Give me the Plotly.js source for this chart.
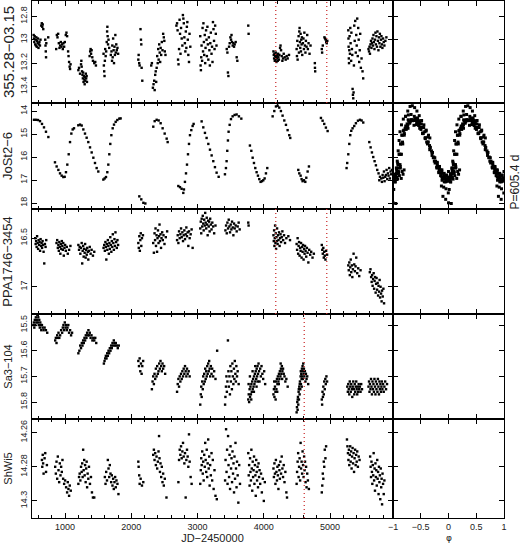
<!DOCTYPE html>
<html>
<head>
<meta charset="utf-8">
<script src="https://cdn.plot.ly/plotly-3.0.1.min.js"></script>
<style>body{margin:0;background:#fff}</style>
</head>
<body>
<div id="chart" style="width:520px;height:544px"></div>
<script>
// star names (left y titles)
const names = ["355.28−03.15", "JoSt2−6", "PPA1746−3454", "Sa3−104", "ShWi5"];

// light curves: [JD-2450000, mag]
const lc355 = [
  [525,12.96],[530,12.99],[535,13.02],[540,12.97],[548,13.04],[552,13.00],[560,13.05],[565,12.98],[572,13.06],[578,13.01],[585,13.03],[590,12.99],[598,13.07],[605,13.04],[612,13.02],[620,13.05],[628,13.00],[640,12.88],[648,12.86],[655,12.89],[662,12.87],[670,12.91],[700,13.00],[704,13.05],[708,13.10],[712,13.15],[716,13.03],[745,12.98],
  [865,13.08],[875,12.96],[885,12.98],[895,12.95],[905,13.03],[915,13.07],[925,13.05],[935,13.02],[945,13.06],[955,13.04],[965,13.08],[975,13.03],[985,13.06],[995,13.02],[1010,12.96],[1020,12.94],[1030,12.97],[1045,13.10],[1052,13.14],[1060,13.19],[1068,13.23],[1075,13.25],[1082,13.21],
  [1200,13.26],[1210,13.24],[1225,13.29],[1240,13.21],[1245,13.18],[1250,13.23],[1255,13.27],[1262,13.30],[1268,13.33],[1272,13.28],[1278,13.36],[1283,13.31],[1290,13.34],[1295,13.38],[1300,13.32],[1305,13.35],[1312,13.29],[1318,13.33],[1325,13.31],[1330,13.36],
  [1370,13.14],[1378,13.10],[1385,13.08],[1392,13.12],[1400,13.09],[1410,13.15],[1420,13.18],[1440,13.20],[1455,13.19],[1465,13.22],
  [1580,13.12],[1585,13.22],[1590,13.27],[1595,13.31],[1600,13.18],[1605,13.08],[1612,13.14],[1620,13.10],[1628,13.02],[1634,12.93],[1638,12.89],[1642,12.97],[1648,13.04],[1655,13.00],[1665,13.07],[1690,13.13],[1700,13.10],[1708,13.18],[1712,13.05],[1718,13.15],[1725,12.99],[1732,13.09],[1738,13.20],[1745,13.06],[1752,13.13],[1758,12.96],[1765,13.11],[1772,13.04],[1780,13.09],[1790,13.07],[1800,13.12],
  [2105,13.17],[2110,13.13],[2118,13.20],[2125,13.22],[2138,12.91],[2145,13.00],[2150,13.04],[2155,13.24],[2165,13.35],
  [2300,13.22],[2310,13.20],[2325,13.41],[2335,13.38],[2345,13.35],[2352,13.43],[2360,13.30],[2368,13.27],[2375,13.36],[2382,13.24],[2390,13.14],[2398,13.20],[2405,13.08],[2412,13.17],[2420,13.04],[2428,13.11],[2435,13.19],[2442,13.07],[2450,13.13],[2460,13.02],[2470,13.09],[2480,12.95],[2490,12.98],[2498,13.01],[2505,13.10],[2515,13.13],
  [2680,12.88],[2690,12.86],[2698,12.92],[2705,13.17],[2712,13.21],[2720,13.08],[2728,12.83],[2735,12.95],[2742,13.12],[2750,12.90],[2760,12.99],[2770,13.05],[2778,12.79],[2785,12.82],[2792,12.86],[2800,12.98],[2808,13.03],[2815,13.10],[2822,12.93],[2830,13.07],[2838,12.89],[2845,12.85],[2852,13.00],[2860,13.13],[2870,13.19],[2878,12.95],[2890,13.06],
  [3040,12.97],[3045,13.22],[3050,13.26],[3055,13.15],[3060,13.05],[3068,13.18],[3075,12.90],[3082,13.10],[3088,12.86],[3095,13.02],[3100,13.13],[3108,12.96],[3115,13.20],[3120,13.07],[3128,12.92],[3135,13.00],[3140,13.14],[3148,12.89],[3155,13.04],[3162,13.17],[3170,12.98],[3178,13.09],[3185,13.22],[3192,13.03],[3200,12.94],[3210,13.12],[3218,13.06],[3225,13.19],[3232,12.85],[3240,12.91],[3248,13.01],[3256,13.08],[3265,12.88],[3275,12.95],[3285,13.05],
  [3440,13.08],[3450,13.11],[3458,13.28],[3465,13.31],[3475,13.06],[3485,13.03],[3495,12.98],[3505,13.00],[3512,12.96],[3520,13.02],[3530,13.05],[3540,13.03],[3550,13.06],[3560,13.04],[3575,13.02],[3590,13.15],[3600,13.18],
  [3765,12.88],[3770,12.95],
  [4145,13.10],[4150,13.13],[4155,13.16],[4160,13.12],[4165,13.18],[4170,13.14],[4175,13.17],[4180,13.11],[4185,13.15],[4190,13.19],[4195,13.13],[4200,13.16],[4205,13.14],[4210,13.18],[4215,13.12],[4220,13.15],[4228,13.17],[4235,13.13],[4245,13.07],[4252,13.05],[4260,13.09],[4270,13.14],[4280,13.18],[4290,13.16],[4300,13.12],[4315,13.15],[4330,13.17],[4345,13.14],[4360,13.16],[4380,13.13],
  [4495,13.08],[4500,13.14],[4505,13.01],[4510,13.17],[4518,13.05],[4525,12.97],[4530,13.11],[4535,12.93],[4540,12.90],[4545,13.02],[4550,13.07],[4555,12.95],[4560,13.10],[4565,13.00],[4570,13.04],[4575,12.98],[4580,13.13],[4590,13.03],[4598,12.99],[4605,13.08],[4612,12.94],[4620,13.05],[4628,13.11],[4635,13.01],[4645,13.06],[4655,12.96],[4665,13.08],[4675,13.03],[4690,13.12],[4705,13.05],[4770,13.20],[4772,13.24],[4775,13.27],
  [4875,13.08],[4880,13.11],[4890,13.05],[4915,12.98],[4925,12.99],[4935,13.00],[4942,13.02],[4950,13.03],[4958,13.01],
  [5275,12.92],[5278,12.99],[5280,13.06],[5283,13.16],[5286,13.20],[5290,13.09],[5295,12.97],[5300,13.12],[5305,12.90],[5310,13.03],[5318,13.18],[5322,12.94],[5330,13.08],[5335,13.13],[5340,13.42],[5345,13.47],[5350,13.50],[5355,13.45],[5360,13.22],[5365,12.88],[5372,13.01],[5380,12.84],[5388,13.11],[5395,12.96],[5402,13.05],[5410,12.82],[5418,13.14],[5425,12.90],[5432,13.00],[5440,13.19],[5448,13.09],[5455,12.95],[5465,13.24],[5475,13.16],[5490,13.27],[5500,13.33],
  [5580,13.08],[5588,13.10],[5595,13.06],[5602,13.12],[5610,13.04],[5618,13.01],[5625,13.07],[5632,13.03],[5640,12.99],[5648,13.05],[5655,12.96],[5662,13.02],[5670,13.08],[5678,13.00],[5685,12.94],[5692,13.04],[5700,12.97],[5708,13.06],[5715,12.93],[5722,13.01],[5730,13.09],[5738,12.98],[5745,13.03],[5752,12.95],[5760,13.06],[5768,13.00],[5775,12.97],[5782,13.04],[5790,13.07],[5800,12.99],[5810,13.02],[5820,13.05],[5835,13.01],[5850,12.98]
];

const lcJoSt = [
  [530,14.38],[561,14.38],[591,14.39],[621,14.44],[651,14.56],[681,14.71],[711,14.90],[747,15.13],
  [847,16.23],[872,16.41],[898,16.56],[923,16.71],[948,16.81],[973,16.87],[993,16.86],[1013,16.66],[1033,16.33],[1054,15.88],[1074,15.35],[1094,14.98],[1114,14.80],[1134,14.75],
  [1199,14.62],[1225,14.59],[1250,14.63],[1275,14.80],[1300,14.98],[1325,15.16],[1350,15.35],[1376,15.58],[1401,15.80],[1426,16.03],[1451,16.26],[1476,16.48],[1501,16.63],
  [1577,16.98],[1597,16.93],[1617,16.87],[1637,16.66],[1652,16.33],[1667,15.88],[1682,15.43],[1698,15.05],[1718,14.75],[1738,14.59],[1763,14.47],[1788,14.39],[1818,14.33],[1838,14.32],
  [2120,17.71],[2150,17.84],[2181,17.99],[2211,18.02],
  [2331,14.68],[2352,14.44],[2382,14.38],[2412,14.41],[2442,14.53],[2472,14.75],[2503,14.98],[2533,15.20],[2548,15.35],
  [2709,17.26],[2734,17.31],[2759,17.38],[2784,17.56],[2794,17.41],[2809,17.08],[2825,16.71],[2840,16.33],[2855,15.88],[2870,15.43],[2885,15.05],[2905,14.83],[2925,14.65],[2940,14.56],
  [3061,14.45],[3086,14.71],[3111,14.95],[3136,15.17],[3162,15.43],[3187,15.68],[3212,15.93],[3237,16.18],[3262,16.44],[3287,16.68],[3318,16.86],
  [3413,16.75],[3428,16.48],[3438,16.18],[3448,15.73],[3458,15.28],[3468,14.90],[3484,14.60],[3504,14.35],[3529,14.23],[3559,14.17],[3589,14.15],[3624,14.23],[3660,14.33],
  [3790,15.50],[3811,15.73],[3831,16.03],[3851,16.26],[3871,16.48],[3891,16.66],[3911,16.81],[3931,16.96],[3951,17.08],[3972,17.05],[3992,17.01],[4012,16.93],[4032,16.71],[4052,16.48],
  [4133,14.23],[4158,14.00],[4183,13.80],[4208,13.77],[4233,13.85],[4258,14.00],[4283,14.20],[4309,14.41],[4334,14.60],[4359,14.83],[4384,15.05],[4399,15.17],
  [4520,16.56],[4535,16.71],[4555,16.81],[4570,16.96],[4585,17.05],[4606,17.01],[4626,17.08],[4641,16.90],[4661,16.63],[4681,16.41],
  [4862,14.30],[4887,14.42],[4912,14.56],[4937,14.72],[4963,14.87],
  [5249,16.48],[5259,16.26],[5275,15.88],[5290,15.43],[5305,15.05],[5320,14.86],[5340,14.75],[5365,14.65],[5390,14.53],[5421,14.42],[5451,14.38],[5476,14.41],[5501,14.50],
  [5592,15.35],[5612,15.58],[5632,15.80],[5652,16.00],[5672,16.18],[5692,16.36],[5712,16.56],[5732,16.71],[5743,17.01],[5753,16.86],[5773,16.93],[5783,17.08],[5793,16.78],[5803,16.90],[5813,16.63],[5823,17.05],[5833,16.86],[5843,16.78],[5853,16.56],[5863,16.96],[5873,16.71],[5883,16.81],[5893,16.48],[5903,16.93],[5913,16.63],[5923,16.75],[5934,16.56]
];

const lcPPA = [
  [548,16.50],[555,16.56],[562,16.53],[570,16.59],[577,16.48],[585,16.55],[592,16.61],[600,16.52],[608,16.57],[615,16.54],[622,16.63],[630,16.51],[638,16.58],[645,16.55],[652,16.60],[660,16.53],[668,16.57],[675,16.64],[685,16.76],[695,16.56],[705,16.59],[715,16.52],
  [870,16.55],[880,16.52],[890,16.60],[898,16.57],[905,16.63],[912,16.54],[920,16.59],[928,16.66],[935,16.56],[942,16.61],[950,16.53],[958,16.58],[965,16.62],[972,16.55],[980,16.68],[990,16.60],[1000,16.57],[1010,16.63],[1025,16.59],[1040,16.66],[1060,16.62],[1080,16.58],
  [1200,16.57],[1210,16.62],[1220,16.59],[1230,16.66],[1240,16.60],[1250,16.55],[1258,16.76],[1265,16.63],[1272,16.58],[1280,16.69],[1288,16.61],[1295,16.65],[1302,16.56],[1310,16.70],[1318,16.62],[1326,16.67],[1334,16.60],[1342,16.64],[1350,16.72],[1360,16.63],[1372,16.59],[1385,16.66],[1400,16.62],[1420,16.68],[1440,16.64],
  [1580,16.60],[1590,16.57],[1600,16.63],[1608,16.54],[1615,16.59],[1622,16.72],[1630,16.56],[1637,16.62],[1645,16.52],[1652,16.58],[1660,16.66],[1668,16.55],[1675,16.61],[1682,16.49],[1690,16.57],[1698,16.64],[1705,16.53],[1712,16.59],[1720,16.46],[1728,16.55],[1736,16.62],[1745,16.51],[1752,16.58],[1760,16.44],[1770,16.54],[1780,16.60],[1790,16.52],[1800,16.57],
  [2105,16.55],[2112,16.60],[2120,16.48],[2128,16.63],[2135,16.52],[2142,16.45],[2150,16.58],[2160,16.50],[2175,16.47],
  [2330,16.55],[2340,16.65],[2350,16.45],[2358,16.52],[2365,16.40],[2372,16.58],[2380,16.47],[2388,16.64],[2395,16.50],[2402,16.42],[2410,16.55],[2418,16.48],[2425,16.36],[2432,16.53],[2440,16.46],[2448,16.60],[2455,16.50],[2465,16.44],[2475,16.52],[2485,16.47],[2500,16.56],[2520,16.49],[2540,16.43],
  [2690,16.52],[2700,16.47],[2710,16.55],[2720,16.43],[2730,16.50],[2740,16.46],[2750,16.40],[2760,16.49],[2770,16.44],[2780,16.53],[2790,16.47],[2800,16.42],[2810,16.51],[2820,16.46],[2830,16.39],[2840,16.48],[2850,16.44],[2860,16.58],[2870,16.43],[2880,16.50],[2895,16.46],[2910,16.41],[2925,16.60],
  [3040,16.40],[3048,16.33],[3055,16.45],[3062,16.30],[3070,16.38],[3078,16.27],[3085,16.35],[3092,16.42],[3100,16.31],[3108,16.37],[3115,16.24],[3122,16.34],[3130,16.40],[3138,16.29],[3145,16.36],[3152,16.47],[3160,16.32],[3168,16.38],[3175,16.33],[3182,16.43],[3190,16.30],[3200,16.36],[3210,16.41],[3222,16.34],[3235,16.38],[3250,16.45],[3270,16.37],
  [3420,16.42],[3430,16.37],[3440,16.45],[3450,16.34],[3460,16.40],[3470,16.31],[3480,16.38],[3490,16.44],[3500,16.36],[3510,16.41],[3520,16.33],[3530,16.39],[3540,16.47],[3550,16.35],[3560,16.40],[3575,16.37],[3590,16.43],[3605,16.38],[3620,16.34],[3635,16.41],
  [3765,16.34],[3770,16.37],
  [4145,16.47],[4150,16.53],[4155,16.42],[4160,16.58],[4165,16.50],[4170,16.37],[4175,16.55],[4180,16.45],[4185,16.61],[4190,16.49],[4195,16.53],[4200,16.40],[4208,16.56],[4215,16.47],[4222,16.52],[4230,16.44],[4238,16.58],[4245,16.50],[4252,16.46],[4260,16.54],[4270,16.49],[4280,16.43],[4292,16.52],[4305,16.47],[4320,16.55],[4340,16.50],[4370,16.48],[4395,16.52],
  [4495,16.56],[4502,16.62],[4510,16.50],[4518,16.66],[4525,16.58],[4532,16.54],[4540,16.68],[4548,16.60],[4555,16.63],[4562,16.55],[4570,16.70],[4578,16.59],[4585,16.64],[4592,16.57],[4600,16.72],[4608,16.61],[4615,16.66],[4622,16.58],[4630,16.63],[4640,16.69],[4650,16.60],[4660,16.65],[4672,16.75],[4685,16.62],[4700,16.67],[4715,16.64],[4735,16.70],[4755,16.66],
  [4875,16.57],[4882,16.62],[4890,16.66],[4898,16.60],[4905,16.70],[4912,16.64],[4920,16.68],[4930,16.72],[4940,16.63],[4955,16.67],
  [5275,16.78],[5282,16.83],[5290,16.75],[5298,16.88],[5305,16.80],[5312,16.72],[5320,16.85],[5328,16.78],[5336,16.90],[5345,16.82],[5355,16.66],[5365,16.77],[5375,16.84],[5385,16.79],[5395,16.70],[5410,16.86],[5425,16.81],[5440,16.89],[5460,16.83],
  [5600,16.85],[5610,16.82],[5620,16.90],[5628,16.95],[5635,16.88],[5642,16.99],[5650,16.92],[5658,16.86],[5665,17.02],[5672,16.94],[5680,16.90],[5688,17.06],[5695,16.97],[5702,16.91],[5710,17.03],[5718,16.96],[5725,17.09],[5732,16.99],[5740,17.05],[5748,16.93],[5755,17.11],[5762,17.00],[5770,17.07],[5778,17.15],[5785,17.04],[5795,17.10],[5805,17.02],[5815,17.17]
];

const lcSa3 = [
  [520,15.50],[528,15.49],[535,15.51],[542,15.48],[550,15.50],[558,15.47],[565,15.49],[572,15.48],[580,15.46],[588,15.49],[595,15.47],[602,15.50],[610,15.48],[618,15.51],[625,15.49],[632,15.50],[640,15.52],[650,15.50],[660,15.51],[675,15.52],[690,15.51],[710,15.52],[730,15.53],
  [850,15.56],[860,15.55],[870,15.57],[880,15.54],[890,15.55],[900,15.53],[912,15.55],[925,15.54],[940,15.52],[955,15.53],[965,15.51],[975,15.50],[985,15.52],[995,15.49],[1005,15.51],[1015,15.50],[1025,15.52],[1035,15.51],[1048,15.50],[1060,15.53],[1075,15.52],[1090,15.54],[1105,15.53],
  [1200,15.61],[1215,15.60],[1228,15.58],[1240,15.59],[1252,15.57],[1262,15.58],[1272,15.56],[1282,15.57],[1292,15.55],[1302,15.56],[1312,15.54],[1322,15.55],[1332,15.53],[1342,15.54],[1352,15.52],[1362,15.54],[1372,15.53],[1385,15.55],[1398,15.54],[1412,15.56],[1425,15.55],[1440,15.56],[1455,15.55],[1470,15.57],
  [1585,15.65],[1595,15.64],[1605,15.63],[1615,15.62],[1625,15.63],[1635,15.61],[1645,15.62],[1655,15.60],[1665,15.61],[1675,15.59],[1685,15.60],[1695,15.58],[1705,15.59],[1715,15.57],[1725,15.58],[1735,15.56],[1745,15.57],[1755,15.58],[1765,15.57],[1780,15.58],[1795,15.59],[1810,15.58],
  [2105,15.64],[2115,15.66],[2125,15.63],[2135,15.68],[2145,15.65],[2155,15.69],[2165,15.66],[2178,15.64],
  [2310,15.75],[2320,15.72],[2330,15.70],[2340,15.73],[2350,15.69],[2360,15.71],[2370,15.67],[2380,15.70],[2390,15.66],[2400,15.69],[2410,15.68],[2420,15.65],[2430,15.67],[2440,15.64],[2450,15.66],[2460,15.68],[2470,15.65],[2480,15.67],[2495,15.66],[2510,15.69],
  [2690,15.76],[2700,15.73],[2710,15.71],[2720,15.74],[2730,15.70],[2740,15.72],[2750,15.69],[2760,15.71],[2770,15.68],[2780,15.70],[2790,15.67],[2800,15.69],[2810,15.66],[2820,15.68],[2830,15.70],[2840,15.67],[2850,15.69],[2865,15.68],[2880,15.70],
  [3040,15.81],[3048,15.77],[3055,15.74],[3062,15.78],[3070,15.72],[3078,15.75],[3085,15.70],[3092,15.73],[3100,15.69],[3108,15.72],[3115,15.67],[3122,15.71],[3130,15.68],[3138,15.70],[3145,15.66],[3152,15.69],[3160,15.65],[3168,15.68],[3175,15.64],[3182,15.67],[3190,15.70],[3200,15.66],[3210,15.69],[3220,15.67],[3235,15.70],[3250,15.68],[3270,15.71],[3295,15.60],
  [3415,15.81],[3420,15.78],[3428,15.74],[3435,15.70],[3442,15.76],[3450,15.72],[3458,15.56],[3465,15.68],[3472,15.74],[3480,15.70],[3488,15.77],[3495,15.66],[3502,15.72],[3510,15.68],[3518,15.75],[3525,15.65],[3532,15.70],[3540,15.73],[3548,15.67],[3555,15.71],[3562,15.64],[3570,15.69],[3578,15.72],[3585,15.66],[3595,15.70],[3605,15.68],[3620,15.73],
  [3765,15.79],[3772,15.77],[3778,15.80],[3785,15.75],[3792,15.78],[3798,15.74],[3805,15.77],[3812,15.73],[3818,15.76],[3825,15.72],[3832,15.75],[3838,15.71],[3845,15.74],[3852,15.70],[3858,15.73],[3865,15.69],[3872,15.72],[3878,15.68],[3885,15.71],[3892,15.67],[3898,15.70],[3905,15.66],[3912,15.69],[3920,15.65],[3928,15.68],[3935,15.72],[3945,15.67],[3955,15.70],[3965,15.66],[3978,15.69],[3990,15.71],[4005,15.68],[4020,15.73],
  [3770,15.73],[3790,15.70],[3810,15.79],[3830,15.68],[3850,15.76],[3870,15.66],[3890,15.74],[3910,15.72],
  [4145,15.77],[4152,15.75],[4160,15.78],[4168,15.74],[4175,15.76],[4182,15.72],[4190,15.75],[4198,15.71],[4205,15.73],[4212,15.70],[4220,15.72],[4228,15.69],[4235,15.71],[4242,15.68],[4250,15.70],[4258,15.67],[4265,15.69],[4272,15.66],[4280,15.68],[4290,15.67],[4300,15.69],[4312,15.70],[4325,15.72],[4340,15.71],[4360,15.74],
  [4156,15.72],[4178,15.79],[4202,15.76],[4226,15.73],[4254,15.65],[4276,15.71],
  [4495,15.84],[4500,15.82],[4505,15.80],[4510,15.83],[4515,15.78],[4520,15.81],[4525,15.76],[4530,15.79],[4535,15.74],[4540,15.77],[4545,15.72],[4550,15.75],[4555,15.70],[4560,15.73],[4565,15.69],[4570,15.71],[4575,15.67],[4580,15.70],[4585,15.66],[4590,15.68],[4595,15.65],[4600,15.69],[4605,15.67],[4612,15.70],[4620,15.68],[4628,15.72],[4635,15.69],[4645,15.71],[4655,15.70],[4670,15.73],
  [4512,15.79],[4528,15.75],[4542,15.73],[4558,15.68],[4572,15.74],[4588,15.71],
  [4875,15.79],[4880,15.81],[4886,15.76],[4892,15.78],[4898,15.74],[4905,15.77],[4912,15.72],[4920,15.75],[4928,15.71],[4935,15.73],[4945,15.70],[4955,15.72],
  [5260,15.74],[5268,15.76],[5275,15.73],[5282,15.75],[5290,15.77],[5297,15.72],[5305,15.74],[5312,15.76],[5320,15.73],[5328,15.75],[5335,15.78],[5342,15.74],[5350,15.72],[5358,15.75],[5365,15.77],[5372,15.73],[5380,15.76],[5388,15.74],[5395,15.72],[5402,15.75],[5410,15.77],[5418,15.74],[5425,15.76],[5432,15.73],[5440,15.75],[5450,15.74],[5460,15.76],[5470,15.73],[5482,15.75],
  [5580,15.74],[5588,15.72],[5595,15.76],[5602,15.73],[5610,15.75],[5618,15.71],[5625,15.74],[5632,15.77],[5640,15.72],[5648,15.75],[5655,15.73],[5662,15.76],[5670,15.71],[5678,15.74],[5685,15.77],[5692,15.72],[5700,15.75],[5708,15.73],[5715,15.76],[5722,15.71],[5730,15.74],[5738,15.77],[5745,15.72],[5752,15.75],[5760,15.73],[5768,15.76],[5775,15.74],[5782,15.72],[5790,15.75],[5800,15.73],[5810,15.76],[5820,15.74],[5832,15.72],[5845,15.75],[5860,15.73]
];

const lcShWi = [
  [650,14.276],[655,14.280],[662,14.273],[668,14.278],[675,14.284],[690,14.275],[700,14.272],[712,14.283],[725,14.279],
  [850,14.280],[860,14.284],[870,14.277],[880,14.287],[890,14.274],[900,14.282],[910,14.289],[920,14.278],[930,14.285],[940,14.280],[950,14.283],[960,14.276],[970,14.287],[985,14.290],[1000,14.288],[1015,14.292],[1030,14.295],[1040,14.289],[1050,14.293],[1060,14.297],[1070,14.291],[1085,14.294],
  [1200,14.290],[1210,14.286],[1220,14.284],[1230,14.288],[1240,14.280],[1250,14.283],[1258,14.278],[1265,14.286],[1272,14.270],[1280,14.282],[1288,14.276],[1295,14.285],[1302,14.279],[1310,14.289],[1318,14.281],[1325,14.277],[1332,14.292],[1340,14.284],[1350,14.287],[1360,14.280],[1375,14.290],[1390,14.286],[1405,14.295],[1420,14.298],[1440,14.298],
  [1600,14.286],[1610,14.290],[1620,14.283],[1632,14.288],[1645,14.276],[1655,14.281],[1665,14.286],[1675,14.279],[1685,14.284],[1695,14.289],[1705,14.285],[1715,14.291],[1725,14.287],[1735,14.293],[1745,14.289],[1755,14.286],[1765,14.292],[1775,14.288],[1790,14.290],[1805,14.296],
  [2105,14.277],[2110,14.280],[2118,14.285],[2125,14.290],[2140,14.287],[2160,14.291],[2180,14.289],
  [2330,14.273],[2340,14.270],[2350,14.276],[2360,14.272],[2370,14.279],[2380,14.274],[2390,14.281],[2400,14.277],[2410,14.271],[2418,14.262],[2425,14.275],[2432,14.283],[2440,14.278],[2450,14.286],[2460,14.280],[2470,14.289],[2480,14.284],[2490,14.291],[2505,14.287],[2530,14.298],
  [2710,14.289],[2720,14.276],[2730,14.270],[2740,14.273],[2750,14.268],[2760,14.275],[2770,14.271],[2780,14.266],[2790,14.274],[2800,14.278],[2810,14.272],[2820,14.298],[2830,14.276],[2840,14.270],[2850,14.274],[2860,14.280],[2870,14.261],[2880,14.277],[2895,14.286],[2910,14.290],
  [3040,14.290],[3048,14.282],[3055,14.275],[3062,14.279],[3070,14.271],[3078,14.284],[3085,14.277],[3092,14.288],[3100,14.273],[3108,14.280],[3115,14.266],[3122,14.276],[3130,14.283],[3138,14.270],[3145,14.286],[3152,14.278],[3160,14.264],[3168,14.281],[3175,14.274],[3182,14.291],[3190,14.279],[3200,14.285],[3210,14.272],[3220,14.288],[3230,14.276],[3242,14.293],[3255,14.282],[3270,14.297],[3290,14.299],
  [3415,14.288],[3422,14.276],[3430,14.258],[3437,14.283],[3445,14.270],[3452,14.290],[3460,14.262],[3467,14.279],[3475,14.286],[3482,14.273],[3490,14.293],[3497,14.268],[3505,14.281],[3512,14.275],[3520,14.289],[3527,14.271],[3535,14.284],[3542,14.278],[3550,14.295],[3557,14.274],[3565,14.287],[3572,14.266],[3580,14.281],[3588,14.292],[3595,14.277],[3605,14.285],[3615,14.301],[3628,14.279],[3640,14.290],
  [3765,14.272],[3772,14.285],[3778,14.279],[3785,14.291],[3792,14.275],[3798,14.283],[3805,14.288],[3812,14.270],[3818,14.281],[3825,14.294],[3832,14.277],[3838,14.286],[3845,14.282],[3852,14.274],[3858,14.290],[3865,14.279],[3872,14.285],[3878,14.297],[3885,14.276],[3892,14.283],[3898,14.288],[3905,14.280],[3912,14.292],[3920,14.278],[3928,14.286],[3935,14.282],[3945,14.290],[3958,14.284],[3970,14.295],[3985,14.287],[4000,14.300],[4015,14.289],
  [4145,14.281],[4152,14.286],[4160,14.278],[4168,14.284],[4175,14.290],[4182,14.276],[4190,14.283],[4198,14.288],[4205,14.280],[4212,14.285],[4220,14.293],[4228,14.279],[4235,14.282],[4242,14.287],[4250,14.277],[4260,14.284],[4270,14.274],[4280,14.281],[4290,14.286],[4300,14.279],[4312,14.289],[4325,14.283],[4340,14.295],[4350,14.298],
  [4495,14.290],[4502,14.283],[4510,14.277],[4518,14.272],[4525,14.286],[4532,14.280],[4540,14.275],[4548,14.288],[4555,14.266],[4562,14.281],[4570,14.277],[4578,14.284],[4585,14.271],[4592,14.279],[4600,14.286],[4608,14.274],[4615,14.282],[4622,14.277],[4630,14.289],[4638,14.280],[4645,14.292],[4655,14.284],[4665,14.288],[4680,14.293],
  [4875,14.295],[4882,14.291],[4890,14.284],[4898,14.287],[4905,14.277],[4912,14.280],[4920,14.270],[4930,14.275],[4940,14.268],
  [5255,14.264],[5262,14.268],[5270,14.272],[5277,14.276],[5284,14.270],[5290,14.279],[5297,14.273],[5304,14.268],[5311,14.277],[5318,14.271],[5325,14.281],[5332,14.274],[5340,14.269],[5347,14.278],[5355,14.272],[5362,14.283],[5370,14.275],[5378,14.270],[5386,14.279],[5394,14.273],[5402,14.277],[5410,14.271],[5420,14.280],[5432,14.274],[5445,14.276],
  [5605,14.274],[5612,14.280],[5618,14.286],[5625,14.277],[5632,14.283],[5638,14.290],[5645,14.279],[5652,14.285],[5658,14.272],[5665,14.288],[5672,14.281],[5678,14.294],[5685,14.278],[5692,14.286],[5698,14.282],[5705,14.291],[5712,14.276],[5718,14.287],[5725,14.283],[5732,14.296],[5738,14.280],[5745,14.289],[5752,14.285],[5758,14.299],[5765,14.281],[5772,14.292],[5778,14.287],[5785,14.302],[5792,14.284],[5800,14.290],[5810,14.296],[5820,14.288]
];

// vertical event markers (JD-2450000)
const epochsA = [4180, 4950];
const epochsB = [4610];

// folding of JoSt2-6
const period = 605.4;
const epoch0 = 970;

// y ranges (magnitude, bright at top) and tick steps
const yRanges = [[13.54, 12.67], [18.26, 13.65], [17.28, 16.2], [15.866, 15.457], [14.31, 14.252]];
const yTicks = [[12.8, 0.2], [14, 1], [16.5, 0.5], [15.5, 0.1], [14.26, 0.02]];
const titleSizes = [15, 13, 13, 11, 11];
const curves = [lc355, lcJoSt, lcPPA, lcSa3, lcShWi];
const events = [epochsA, [], epochsA, epochsB, epochsB];

(() => {
  const rowTops = [1, 103, 209, 314, 419, 518];
  const H = 544, W = 520;
  const leftDom = [32 / W, 393 / W];
  const rightDom = [393 / W, 504 / W];
  const font = { family: "Liberation Sans, Arial, sans-serif", color: "#222" };

  const traces = [];
  const layout = {
    width: W, height: H,
    margin: { l: 0, r: 0, t: 0, b: 0 },
    showlegend: false,
    paper_bgcolor: "white", plot_bgcolor: "white",
    font: Object.assign({ size: 9 }, font),
    shapes: [], annotations: [],
  };

  const axCommon = {
    showline: true, linecolor: "black", linewidth: 1, mirror: "ticks",
    ticks: "inside", ticklen: 5, tickcolor: "black", tickwidth: 1,
    showgrid: false, zeroline: false, tickfont: Object.assign({ size: 9 }, font),
  };

  const marker = { symbol: "square", size: 2.4, color: "#000", line: { width: 0 } };

  curves.forEach((lc, r) => {
    const iL = r + 1, iR = r + 6;
    const kx = (i) => (i === 1 ? "x" : "x" + i);
    const ky = (i) => (i === 1 ? "y" : "y" + i);
    const ax = (i) => (i === 1 ? "" : String(i));
    const dom = [1 - rowTops[r + 1] / H, 1 - rowTops[r] / H];
    const bottom = r === 4;

    traces.push({
      type: "scatter", mode: "markers",
      x: lc.map((p) => p[0]), y: lc.map((p) => p[1]),
      xaxis: kx(iL), yaxis: ky(iL), marker: marker, hoverinfo: "skip",
    });

    layout["xaxis" + ax(iL)] = Object.assign({}, axCommon, {
      domain: leftDom, range: [500, 5950], anchor: ky(iL),
      tick0: 0, dtick: 1000, showticklabels: bottom,
      minor: { ticks: "inside", ticklen: 3, dtick: 200, tick0: 0, tickcolor: "black", showgrid: false },
      title: bottom ? { text: "JD−2450000", font: Object.assign({ size: 11 }, font), standoff: 2 } : undefined,
    });
    layout["yaxis" + ax(iL)] = Object.assign({}, axCommon, {
      domain: dom, range: yRanges[r], anchor: kx(iL),
      tick0: yTicks[r][0], dtick: yTicks[r][1], tickangle: -90,
      title: { text: names[r], font: Object.assign({ size: titleSizes[r] }, font), standoff: 4 },
    });

    layout["xaxis" + iR] = Object.assign({}, axCommon, {
      domain: rightDom, range: [-1, 1], anchor: ky(iR),
      tick0: 0, dtick: 0.5, showticklabels: bottom,
    });
    layout["yaxis" + iR] = Object.assign({}, axCommon, {
      domain: dom, range: yRanges[r], anchor: kx(iR),
      tick0: yTicks[r][0], dtick: yTicks[r][1], showticklabels: false,
    });

    // folded curve only for JoSt2-6; other phase panels stay empty
    let ph = [], mags = [];
    if (r === 1) {
      const f = lc.map((p) => {
        const v = ((p[0] - epoch0) / period) % 1;
        return v < 0 ? v + 1 : v;
      });
      ph = f.concat(f.map((v) => v - 1));
      mags = lc.map((p) => p[1]).concat(lc.map((p) => p[1]));
    }
    traces.push({
      type: "scatter", mode: "markers", x: ph, y: mags,
      xaxis: kx(iR), yaxis: ky(iR),
      marker: Object.assign({}, marker, { size: 3 }), hoverinfo: "skip",
    });

    events[r].forEach((t) => {
      layout.shapes.push({
        type: "line", xref: kx(iL), yref: ky(iL) + " domain",
        x0: t, x1: t, y0: 0, y1: 1,
        line: { color: "#cc3333", width: 1.3, dash: "1px,3px" },
      });
    });
  });

  // phase axis label, sitting on the bottom edge under the "0" tick
  layout.annotations.push({
    text: "φ", xref: "paper", yref: "paper",
    x: 449 / W, y: 0, xanchor: "center", yanchor: "bottom",
    showarrow: false, borderpad: 0,
    font: { size: 9, family: "DejaVu Sans", color: "#222" },
  });
  layout.annotations.push({
    text: "P=605.4 d", xref: "paper", yref: "paper",
    x: 514 / W, y: 1 - 153 / H, xanchor: "center", textangle: -90, showarrow: false,
    font: Object.assign({ size: 12 }, font),
  });

  Plotly.newPlot("chart", traces, layout, { staticPlot: true, displayModeBar: false });
})();
</script>
</body>
</html>
